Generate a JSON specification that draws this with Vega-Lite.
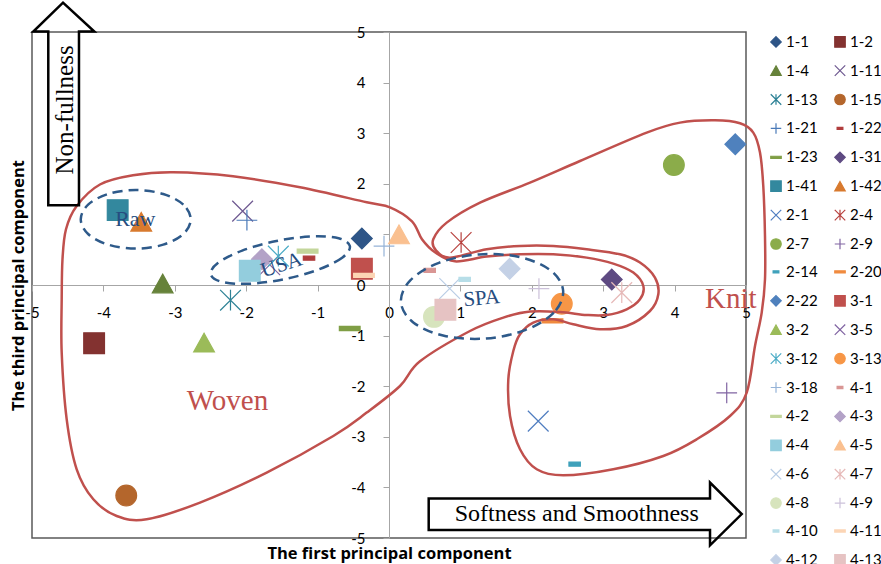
{
  "$schema": "https://vega.github.io/schema/vega-lite/v6.json",
  "width": 714,
  "height": 506,
  "autosize": {"type": "none"},
  "padding": {"left": 32, "top": 32, "right": 135, "bottom": 26},
  "background": "white",
  "datasets": {
    "points": [
      {"series": "1-1", "x": -0.38, "y": 0.92},
      {"series": "1-2", "x": -4.13, "y": -1.15},
      {"series": "1-4", "x": -3.17, "y": 0.03},
      {"series": "1-11", "x": -2.05, "y": 1.46},
      {"series": "1-13", "x": -2.22, "y": -0.3},
      {"series": "1-15", "x": -3.68, "y": -4.16},
      {"series": "1-21", "x": -1.99, "y": 1.28},
      {"series": "1-22", "x": -1.12, "y": 0.53},
      {"series": "1-23", "x": -0.55, "y": -0.86},
      {"series": "1-31", "x": 3.12, "y": 0.11},
      {"series": "1-41", "x": -3.8, "y": 1.48},
      {"series": "1-42", "x": -3.47, "y": 1.25},
      {"series": "2-1", "x": 2.09, "y": -2.69},
      {"series": "2-4", "x": 1.01, "y": 0.84},
      {"series": "2-7", "x": 3.99, "y": 2.37},
      {"series": "2-9", "x": 4.73, "y": -2.13},
      {"series": "2-14", "x": 2.6, "y": -3.54},
      {"series": "2-20", "x": 2.29, "y": -0.71},
      {"series": "2-22", "x": 4.85, "y": 2.78},
      {"series": "3-1", "x": -0.38, "y": 0.32},
      {"series": "3-2", "x": -2.59, "y": -1.14},
      {"series": "3-5", "x": -1.67, "y": 0.4},
      {"series": "3-12", "x": -1.55, "y": 0.57},
      {"series": "3-13", "x": 2.42, "y": -0.37},
      {"series": "3-18", "x": -0.07, "y": 0.77},
      {"series": "4-1", "x": 0.57, "y": 0.29},
      {"series": "4-2", "x": -1.14, "y": 0.67},
      {"series": "4-3", "x": -1.78, "y": 0.51},
      {"series": "4-4", "x": -1.95, "y": 0.28},
      {"series": "4-5", "x": 0.14, "y": 1.0},
      {"series": "4-6", "x": 0.85, "y": -0.07},
      {"series": "4-7", "x": 3.26, "y": -0.15},
      {"series": "4-8", "x": 0.63, "y": -0.63},
      {"series": "4-9", "x": 2.1, "y": -0.07},
      {"series": "4-10", "x": 1.06, "y": 0.11},
      {"series": "4-11", "x": -0.35, "y": 0.19},
      {"series": "4-12", "x": 1.69, "y": 0.32},
      {"series": "4-13", "x": 0.79, "y": -0.49}
    ],
    "outlines": [
      {"g": "Woven", "o": 1, "x": -4.584, "y": -0.283},
      {"g": "Woven", "o": 2, "x": -4.573, "y": 0.508},
      {"g": "Woven", "o": 3, "x": -4.524, "y": 1.101},
      {"g": "Woven", "o": 4, "x": -4.374, "y": 1.561},
      {"g": "Woven", "o": 5, "x": -4.048, "y": 1.986},
      {"g": "Woven", "o": 6, "x": -3.585, "y": 2.168},
      {"g": "Woven", "o": 7, "x": -3.025, "y": 2.227},
      {"g": "Woven", "o": 8, "x": -2.185, "y": 2.148},
      {"g": "Woven", "o": 9, "x": -1.246, "y": 1.931},
      {"g": "Woven", "o": 10, "x": -0.312, "y": 1.634},
      {"g": "Woven", "o": 11, "x": 0.014, "y": 1.536},
      {"g": "Woven", "o": 12, "x": 0.322, "y": 1.259},
      {"g": "Woven", "o": 13, "x": 0.462, "y": 0.903},
      {"g": "Woven", "o": 14, "x": 0.644, "y": 0.646},
      {"g": "Woven", "o": 15, "x": 0.924, "y": 0.468},
      {"g": "Woven", "o": 16, "x": 1.368, "y": 0.561},
      {"g": "Woven", "o": 17, "x": 1.835, "y": 0.607},
      {"g": "Woven", "o": 18, "x": 2.301, "y": 0.607},
      {"g": "Woven", "o": 19, "x": 2.769, "y": 0.541},
      {"g": "Woven", "o": 20, "x": 3.141, "y": 0.423},
      {"g": "Woven", "o": 21, "x": 3.422, "y": 0.245},
      {"g": "Woven", "o": 22, "x": 3.562, "y": -0.02},
      {"g": "Woven", "o": 23, "x": 3.515, "y": -0.283},
      {"g": "Woven", "o": 24, "x": 3.329, "y": -0.48},
      {"g": "Woven", "o": 25, "x": 3.049, "y": -0.593},
      {"g": "Woven", "o": 26, "x": 2.769, "y": -0.593},
      {"g": "Woven", "o": 27, "x": 2.395, "y": -0.534},
      {"g": "Woven", "o": 28, "x": 1.975, "y": -0.526},
      {"g": "Woven", "o": 29, "x": 1.601, "y": -0.644},
      {"g": "Woven", "o": 30, "x": 1.134, "y": -0.909},
      {"g": "Woven", "o": 31, "x": 0.434, "y": -1.508},
      {"g": "Woven", "o": 32, "x": 0.154, "y": -1.996},
      {"g": "Woven", "o": 33, "x": -0.312, "y": -2.522},
      {"g": "Woven", "o": 34, "x": -0.78, "y": -2.984},
      {"g": "Woven", "o": 35, "x": -1.713, "y": -3.708},
      {"g": "Woven", "o": 36, "x": -2.647, "y": -4.3},
      {"g": "Woven", "o": 37, "x": -3.394, "y": -4.63},
      {"g": "Woven", "o": 38, "x": -3.814, "y": -4.565},
      {"g": "Woven", "o": 39, "x": -4.141, "y": -4.235},
      {"g": "Woven", "o": 40, "x": -4.374, "y": -3.642},
      {"g": "Woven", "o": 41, "x": -4.514, "y": -2.654},
      {"g": "Woven", "o": 42, "x": -4.584, "y": -1.336},
      {"g": "Knit", "o": 1, "x": 0.854, "y": 0.541},
      {"g": "Knit", "o": 2, "x": 1.368, "y": 0.706},
      {"g": "Knit", "o": 3, "x": 1.835, "y": 0.771},
      {"g": "Knit", "o": 4, "x": 2.301, "y": 0.771},
      {"g": "Knit", "o": 5, "x": 2.769, "y": 0.706},
      {"g": "Knit", "o": 6, "x": 3.235, "y": 0.607},
      {"g": "Knit", "o": 7, "x": 3.515, "y": 0.443},
      {"g": "Knit", "o": 8, "x": 3.725, "y": 0.146},
      {"g": "Knit", "o": 9, "x": 3.772, "y": -0.184},
      {"g": "Knit", "o": 10, "x": 3.655, "y": -0.514},
      {"g": "Knit", "o": 11, "x": 3.329, "y": -0.81},
      {"g": "Knit", "o": 12, "x": 2.955, "y": -0.875},
      {"g": "Knit", "o": 13, "x": 2.581, "y": -0.777},
      {"g": "Knit", "o": 14, "x": 2.301, "y": -0.678},
      {"g": "Knit", "o": 15, "x": 2.021, "y": -0.743},
      {"g": "Knit", "o": 16, "x": 1.835, "y": -0.974},
      {"g": "Knit", "o": 17, "x": 1.741, "y": -1.304},
      {"g": "Knit", "o": 18, "x": 1.671, "y": -1.864},
      {"g": "Knit", "o": 19, "x": 1.695, "y": -2.589},
      {"g": "Knit", "o": 20, "x": 1.835, "y": -3.247},
      {"g": "Knit", "o": 21, "x": 2.069, "y": -3.642},
      {"g": "Knit", "o": 22, "x": 2.441, "y": -3.761},
      {"g": "Knit", "o": 23, "x": 3.141, "y": -3.642},
      {"g": "Knit", "o": 24, "x": 3.842, "y": -3.379},
      {"g": "Knit", "o": 25, "x": 4.31, "y": -3.049},
      {"g": "Knit", "o": 26, "x": 4.776, "y": -2.589},
      {"g": "Knit", "o": 27, "x": 5.01, "y": -2.126},
      {"g": "Knit", "o": 28, "x": 5.126, "y": -1.206},
      {"g": "Knit", "o": 29, "x": 5.22, "y": -0.545},
      {"g": "Knit", "o": 30, "x": 5.266, "y": 0.113},
      {"g": "Knit", "o": 31, "x": 5.266, "y": 0.968},
      {"g": "Knit", "o": 32, "x": 5.242, "y": 1.957},
      {"g": "Knit", "o": 33, "x": 5.196, "y": 2.617},
      {"g": "Knit", "o": 34, "x": 5.102, "y": 3.012},
      {"g": "Knit", "o": 35, "x": 4.916, "y": 3.196},
      {"g": "Knit", "o": 36, "x": 4.566, "y": 3.255},
      {"g": "Knit", "o": 37, "x": 4.076, "y": 3.209},
      {"g": "Knit", "o": 38, "x": 3.609, "y": 3.012},
      {"g": "Knit", "o": 39, "x": 2.675, "y": 2.451},
      {"g": "Knit", "o": 40, "x": 1.975, "y": 2.024},
      {"g": "Knit", "o": 41, "x": 1.275, "y": 1.628},
      {"g": "Knit", "o": 42, "x": 0.808, "y": 1.233},
      {"g": "Knit", "o": 43, "x": 0.62, "y": 0.903},
      {"g": "Knit", "o": 44, "x": 0.658, "y": 0.686}
    ],
    "ellipses": [
      {"g": "Raw", "o": 1, "x": -2.777, "y": 1.298},
      {"g": "Raw", "o": 2, "x": -2.88, "y": 1.588},
      {"g": "Raw", "o": 3, "x": -3.162, "y": 1.799},
      {"g": "Raw", "o": 4, "x": -3.547, "y": 1.877},
      {"g": "Raw", "o": 5, "x": -3.932, "y": 1.799},
      {"g": "Raw", "o": 6, "x": -4.214, "y": 1.588},
      {"g": "Raw", "o": 7, "x": -4.317, "y": 1.298},
      {"g": "Raw", "o": 8, "x": -4.214, "y": 1.008},
      {"g": "Raw", "o": 9, "x": -3.932, "y": 0.797},
      {"g": "Raw", "o": 10, "x": -3.547, "y": 0.719},
      {"g": "Raw", "o": 11, "x": -3.162, "y": 0.797},
      {"g": "Raw", "o": 12, "x": -2.88, "y": 1.008},
      {"g": "USA", "o": 1, "x": -0.548, "y": 0.771},
      {"g": "USA", "o": 2, "x": -0.651, "y": 0.545},
      {"g": "USA", "o": 3, "x": -0.988, "y": 0.305},
      {"g": "USA", "o": 4, "x": -1.468, "y": 0.114},
      {"g": "USA", "o": 5, "x": -1.962, "y": 0.025},
      {"g": "USA", "o": 6, "x": -2.339, "y": 0.061},
      {"g": "USA", "o": 7, "x": -2.497, "y": 0.213},
      {"g": "USA", "o": 8, "x": -2.393, "y": 0.439},
      {"g": "USA", "o": 9, "x": -2.056, "y": 0.68},
      {"g": "USA", "o": 10, "x": -1.576, "y": 0.87},
      {"g": "USA", "o": 11, "x": -1.082, "y": 0.959},
      {"g": "USA", "o": 12, "x": -0.705, "y": 0.923},
      {"g": "SPA", "o": 1, "x": 2.439, "y": -0.115},
      {"g": "SPA", "o": 2, "x": 2.308, "y": -0.546},
      {"g": "SPA", "o": 3, "x": 1.907, "y": -0.891},
      {"g": "SPA", "o": 4, "x": 1.344, "y": -1.059},
      {"g": "SPA", "o": 5, "x": 0.771, "y": -1.004},
      {"g": "SPA", "o": 6, "x": 0.34, "y": -0.74},
      {"g": "SPA", "o": 7, "x": 0.167, "y": -0.339},
      {"g": "SPA", "o": 8, "x": 0.298, "y": 0.092},
      {"g": "SPA", "o": 9, "x": 0.699, "y": 0.438},
      {"g": "SPA", "o": 10, "x": 1.262, "y": 0.605},
      {"g": "SPA", "o": 11, "x": 1.835, "y": 0.55},
      {"g": "SPA", "o": 12, "x": 2.266, "y": 0.286}
    ],
    "arrows": [
      {"g": "up", "o": 1, "x": -4.566, "y": 5.581},
      {"g": "up", "o": 2, "x": -4.127, "y": 5.008},
      {"g": "up", "o": 3, "x": -4.342, "y": 5.008},
      {"g": "up", "o": 4, "x": -4.342, "y": 1.575},
      {"g": "up", "o": 5, "x": -4.772, "y": 1.575},
      {"g": "up", "o": 6, "x": -4.772, "y": 5.008},
      {"g": "up", "o": 7, "x": -4.982, "y": 5.008},
      {"g": "right", "o": 1, "x": 0.556, "y": -4.221},
      {"g": "right", "o": 2, "x": 4.496, "y": -4.221},
      {"g": "right", "o": 3, "x": 4.496, "y": -3.905},
      {"g": "right", "o": 4, "x": 4.94, "y": -4.526},
      {"g": "right", "o": 5, "x": 4.496, "y": -5.144},
      {"g": "right", "o": 6, "x": 4.496, "y": -4.842},
      {"g": "right", "o": 7, "x": 0.556, "y": -4.842}
    ],
    "redLabels": [
      {"label": "Woven", "x": -2.262, "y": -2.3},
      {"label": "Knit", "x": 4.787, "y": -0.283}
    ],
    "blueLabels": [
      {"label": "Raw", "x": -3.553, "y": 1.298},
      {"label": "USA", "x": -1.503, "y": 0.389},
      {"label": "SPA", "x": 1.298, "y": -0.269}
    ],
    "arrowLabels": [
      {"label": "Non-fullness", "x": -4.538, "y": 3.46},
      {"label": "Softness and Smoothness", "x": 2.629, "y": -4.526}
    ]
  },
  "encoding": {
    "x": {
      "field": "x",
      "type": "quantitative",
      "scale": {"domain": [-5, 5], "nice": false, "zero": false},
      "axis": {
        "title": "The first principal  component",
        "offset": -253,
        "values": [-5, -4, -3, -2, -1, 0, 1, 2, 3, 4, 5],
        "labelExpr": "'' + datum.value",
        "grid": false,
        "domainColor": "#a6a6a6",
        "tickColor": "#a6a6a6",
        "tickSize": 6,
        "labelFont": "Lato",
        "labelFontSize": 15,
        "labelColor": "#000000",
        "labelPadding": 14,
        "labelFlush": false,
        "labelOverlap": false,
        "titleFont": "Open Sans",
        "titleFontSize": 16.5,
        "titleFontWeight": "bold",
        "titleColor": "#000000",
        "titleX": 357,
        "titleY": 268,
        "titleAlign": "center",
        "titleBaseline": "middle"
      }
    },
    "y": {
      "field": "y",
      "type": "quantitative",
      "scale": {"domain": [-5, 5], "nice": false, "zero": false},
      "axis": {
        "title": "The third principal  component",
        "offset": -357,
        "values": [-5, -4, -3, -2, -1, 0, 1, 2, 3, 4, 5],
        "labelExpr": "'' + datum.value",
        "grid": false,
        "domainColor": "#a6a6a6",
        "tickColor": "#a6a6a6",
        "tickSize": 6,
        "labelFont": "Lato",
        "labelFontSize": 15,
        "labelColor": "#000000",
        "labelPadding": 18,
        "labelFlush": false,
        "labelOverlap": false,
        "titleFont": "Open Sans",
        "titleFontSize": 16.5,
        "titleFontWeight": "bold",
        "titleColor": "#000000",
        "titleX": -371,
        "titleY": 253,
        "titleAngle": -90,
        "titleAlign": "center",
        "titleBaseline": "middle"
      }
    }
  },
  "layer": [
    {
      "data": {"name": "points"},
      "mark": {"type": "point", "filled": true, "opacity": 1, "size": 430, "strokeWidth": 1.2},
      "encoding": {
        "fill": {
          "field": "series", "type": "nominal",
          "scale": {
            "domain": ["1-1","1-2","1-4","1-11","1-13","1-15","1-21","1-22","1-23","1-31","1-41","1-42","2-1","2-4","2-7","2-9","2-14","2-20","2-22","3-1","3-2","3-5","3-12","3-13","3-18","4-1","4-2","4-3","4-4","4-5","4-6","4-7","4-8","4-9","4-10","4-11","4-12","4-13"],
            "range": ["#2E5587","#833230","#66823A","#6E5890","#2E8296","#B4662C","#4A7AB8","#B03C3C","#7F9E45","#5E4A82","#33889E","#D87A2E","#4F7DC0","#B8423F","#8BAC4A","#8064A2","#3FA1BB","#F08A3E","#4F81BD","#C0504D","#9BBB59","#8064A2","#4BACC6","#F79646","#95B3D7","#D99694","#C3D69B","#B3A2C7","#93CDDD","#FAC090","#B9CDE5","#E6B9B8","#D7E4BD","#CCC1DA","#B7DEE8","#FCD5B5","#C4D1E6","#E6C3C3"]
          },
          "legend": {"title": null, "orient": "none", "legendX": 736.5, "legendY": 2.2, "columns": 2, "direction": "horizontal"}
        },
        "stroke": {
          "field": "series", "type": "nominal",
          "scale": {
            "domain": ["1-1","1-2","1-4","1-11","1-13","1-15","1-21","1-22","1-23","1-31","1-41","1-42","2-1","2-4","2-7","2-9","2-14","2-20","2-22","3-1","3-2","3-5","3-12","3-13","3-18","4-1","4-2","4-3","4-4","4-5","4-6","4-7","4-8","4-9","4-10","4-11","4-12","4-13"],
            "range": ["#2E5587","#833230","#66823A","#6E5890","#2E8296","#B4662C","#4A7AB8","#B03C3C","#7F9E45","#5E4A82","#33889E","#D87A2E","#4F7DC0","#B8423F","#8BAC4A","#8064A2","#3FA1BB","#F08A3E","#4F81BD","#C0504D","#9BBB59","#8064A2","#4BACC6","#F79646","#95B3D7","#D99694","#C3D69B","#B3A2C7","#93CDDD","#FAC090","#B9CDE5","#E6B9B8","#D7E4BD","#CCC1DA","#B7DEE8","#FCD5B5","#C4D1E6","#E6C3C3"]
          },
          "legend": {"title": null, "orient": "none", "legendX": 736.5, "legendY": 2.2, "columns": 2, "direction": "horizontal"}
        },
        "shape": {
          "field": "series", "type": "nominal",
          "scale": {
            "domain": ["1-1","1-2","1-4","1-11","1-13","1-15","1-21","1-22","1-23","1-31","1-41","1-42","2-1","2-4","2-7","2-9","2-14","2-20","2-22","3-1","3-2","3-5","3-12","3-13","3-18","4-1","4-2","4-3","4-4","4-5","4-6","4-7","4-8","4-9","4-10","4-11","4-12","4-13"],
            "range": [
              "M0,-1L1,0L0,1L-1,0Z","square","M0,-0.9L1,0.9L-1,0.9Z","M-1,-1L1,1M-1,1L1,-1","M-1,-1L1,1M-1,1L1,-1M0,-1L0,1","circle","M-1,0L1,0M0,-1L0,1","M-0.55,-0.2L0.55,-0.2L0.55,0.2L-0.55,0.2Z","M-1,-0.2L1,-0.2L1,0.2L-1,0.2Z",
              "M0,-1L1,0L0,1L-1,0Z","square","M0,-0.9L1,0.9L-1,0.9Z","M-1,-1L1,1M-1,1L1,-1","M-1,-1L1,1M-1,1L1,-1M0,-1L0,1","circle","M-1,0L1,0M0,-1L0,1","M-0.55,-0.2L0.55,-0.2L0.55,0.2L-0.55,0.2Z","M-1,-0.2L1,-0.2L1,0.2L-1,0.2Z",
              "M0,-1L1,0L0,1L-1,0Z","square","M0,-0.9L1,0.9L-1,0.9Z","M-1,-1L1,1M-1,1L1,-1","M-1,-1L1,1M-1,1L1,-1M0,-1L0,1","circle","M-1,0L1,0M0,-1L0,1","M-0.55,-0.2L0.55,-0.2L0.55,0.2L-0.55,0.2Z","M-1,-0.2L1,-0.2L1,0.2L-1,0.2Z",
              "M0,-1L1,0L0,1L-1,0Z","square","M0,-0.9L1,0.9L-1,0.9Z","M-1,-1L1,1M-1,1L1,-1","M-1,-1L1,1M-1,1L1,-1M0,-1L0,1","circle","M-1,0L1,0M0,-1L0,1","M-0.55,-0.2L0.55,-0.2L0.55,0.2L-0.55,0.2Z","M-1,-0.2L1,-0.2L1,0.2L-1,0.2Z",
              "M0,-1L1,0L0,1L-1,0Z","square"
            ]
          },
          "legend": {"title": null, "orient": "none", "legendX": 736.5, "legendY": 2.2, "columns": 2, "direction": "horizontal"}
        }
      }
    },
    {
      "data": {"name": "outlines"},
      "mark": {"type": "line", "interpolate": "cardinal-closed", "color": "#C0504D", "strokeWidth": 2.5},
      "encoding": {
        "detail": {"field": "g", "type": "nominal"},
        "order": {"field": "o", "type": "quantitative"}
      }
    },
    {
      "data": {"name": "ellipses"},
      "mark": {"type": "line", "interpolate": "cardinal-closed", "color": "#2E5A8A", "strokeWidth": 2.5, "strokeDash": [10, 6]},
      "encoding": {
        "detail": {"field": "g", "type": "nominal"},
        "order": {"field": "o", "type": "quantitative"}
      }
    },
    {
      "data": {"name": "arrows"},
      "mark": {"type": "line", "interpolate": "linear-closed", "color": "#000000", "strokeWidth": 2.5, "strokeJoin": "miter"},
      "encoding": {
        "detail": {"field": "g", "type": "nominal"},
        "order": {"field": "o", "type": "quantitative"}
      }
    },
    {
      "data": {"name": "redLabels"},
      "mark": {"type": "text", "font": "Liberation Serif", "fontSize": 29, "color": "#C0504D", "align": "center", "baseline": "middle"},
      "encoding": {"text": {"field": "label", "type": "nominal"}}
    },
    {
      "data": {"name": "blueLabels"},
      "transform": [{"filter": "datum.label == 'Raw'"}],
      "mark": {"type": "text", "font": "Liberation Serif", "fontSize": 22, "color": "#264D80", "align": "center", "baseline": "middle"},
      "encoding": {"text": {"field": "label", "type": "nominal"}}
    },
    {
      "data": {"name": "blueLabels"},
      "transform": [{"filter": "datum.label == 'USA'"}],
      "mark": {"type": "text", "font": "Liberation Serif", "fontSize": 21, "color": "#264D80", "align": "center", "baseline": "middle", "angle": -18},
      "encoding": {"text": {"field": "label", "type": "nominal"}}
    },
    {
      "data": {"name": "blueLabels"},
      "transform": [{"filter": "datum.label == 'SPA'"}],
      "mark": {"type": "text", "font": "Liberation Serif", "fontSize": 21, "color": "#264D80", "align": "center", "baseline": "middle", "angle": -5},
      "encoding": {"text": {"field": "label", "type": "nominal"}}
    },
    {
      "data": {"name": "arrowLabels"},
      "transform": [{"filter": "datum.label == 'Non-fullness'"}],
      "mark": {"type": "text", "font": "Liberation Serif", "fontSize": 25, "color": "#000000", "align": "center", "baseline": "middle", "angle": 270},
      "encoding": {"text": {"field": "label", "type": "nominal"}}
    },
    {
      "data": {"name": "arrowLabels"},
      "transform": [{"filter": "datum.label == 'Softness and Smoothness'"}],
      "mark": {"type": "text", "font": "Liberation Serif", "fontSize": 24, "color": "#000000", "align": "center", "baseline": "middle"},
      "encoding": {"text": {"field": "label", "type": "nominal"}}
    }
  ],
  "config": {
    "view": {"stroke": "#595959", "strokeWidth": 1.5},
    "legend": {
      "symbolLimit": 50,
      "labelFont": "Lato",
      "labelFontSize": 15,
      "labelColor": "#000000",
      "symbolSize": 110,
      "symbolStrokeWidth": 1.2,
      "rowPadding": 11.9,
      "columnPadding": 13,
      "labelOffset": 2.5,
      "padding": 0,
      "gridAlign": "each"
    }
  }
}
